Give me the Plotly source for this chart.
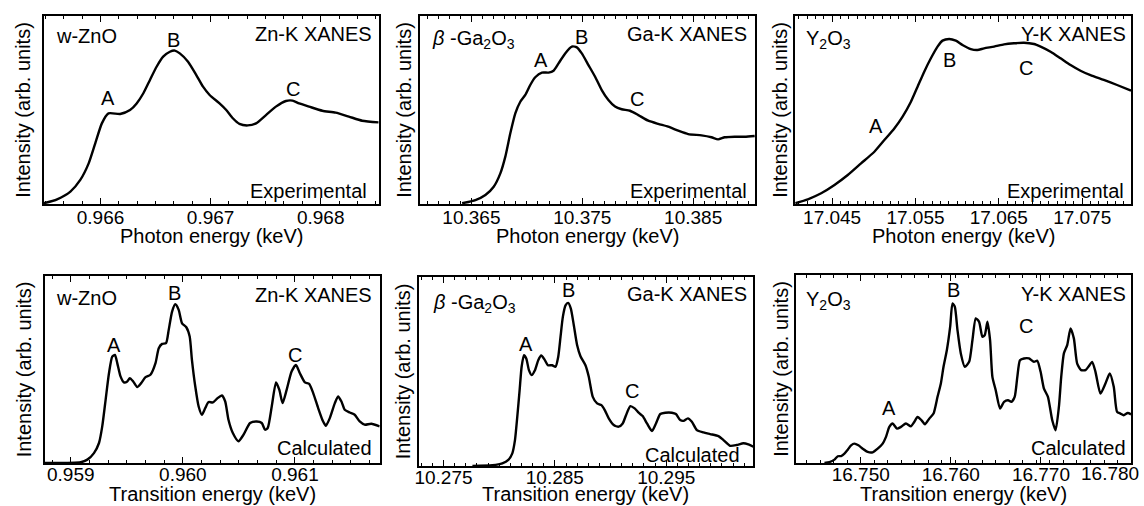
import plotly.graph_objects as go

# ---------------- data ----------------
zn_exp_e = [0.965485, 0.965605, 0.965726, 0.965816, 0.965892, 0.965952, 0.966012, 0.966072,
            0.966178, 0.966268, 0.966328, 0.966389, 0.966449, 0.966509, 0.966569, 0.966630,
            0.966675, 0.966720, 0.966795, 0.966870, 0.966931, 0.966991, 0.967081, 0.967142,
            0.967202, 0.967262, 0.967337, 0.967413, 0.967503, 0.967593, 0.967684, 0.967744,
            0.967804, 0.967895, 0.968015, 0.968136, 0.968256, 0.968377, 0.968527]
zn_exp_i = [0.004, 0.025, 0.066, 0.128, 0.216, 0.323, 0.429, 0.482,
            0.479, 0.500, 0.535, 0.589, 0.660, 0.730, 0.784, 0.810,
            0.816, 0.801, 0.757, 0.686, 0.624, 0.580, 0.535, 0.500,
            0.456, 0.426, 0.418, 0.429, 0.473, 0.518, 0.548, 0.550,
            0.535, 0.518, 0.496, 0.486, 0.465, 0.443, 0.434]

ga_exp_e = [10.364160, 10.365360, 10.366259, 10.367009, 10.367609, 10.368058, 10.368508, 10.368958,
            10.369408, 10.369858, 10.370307, 10.370757, 10.371357, 10.371957, 10.372406, 10.372856,
            10.373456, 10.374055, 10.374505, 10.374955, 10.375555, 10.376154, 10.376754, 10.377354,
            10.377954, 10.378553, 10.379303, 10.380052, 10.380952, 10.381852, 10.382751, 10.383651,
            10.384550, 10.385750, 10.386649, 10.387249, 10.387849, 10.388748, 10.389648, 10.390547]
ga_exp_i = [0.004, 0.021, 0.048, 0.092, 0.163, 0.252, 0.376, 0.482,
            0.544, 0.580, 0.633, 0.674, 0.699, 0.699, 0.709, 0.748,
            0.801, 0.837, 0.833, 0.801, 0.739, 0.677, 0.606, 0.553,
            0.518, 0.504, 0.496, 0.473, 0.443, 0.426, 0.411, 0.390,
            0.372, 0.365, 0.355, 0.344, 0.355, 0.358, 0.358, 0.362]

y_exp_e = [17.040572, 17.042088, 17.043684, 17.045279, 17.046875, 17.048470, 17.050066, 17.051263,
           17.052459, 17.053456, 17.054454, 17.055251, 17.056049, 17.056847, 17.057645, 17.058243,
           17.059041, 17.059838, 17.060636, 17.061633, 17.062431, 17.063229, 17.064426, 17.065622,
           17.066819, 17.068016, 17.069213, 17.070010, 17.071207, 17.072404, 17.073600, 17.074797,
           17.075994, 17.077589, 17.079185, 17.080860]
y_exp_i = [0.004, 0.025, 0.057, 0.101, 0.154, 0.216, 0.278, 0.340,
           0.402, 0.465, 0.544, 0.624, 0.704, 0.775, 0.837, 0.869,
           0.878, 0.869, 0.846, 0.824, 0.819, 0.828, 0.837, 0.849,
           0.855, 0.858, 0.851, 0.837, 0.810, 0.775, 0.739, 0.709,
           0.686, 0.660, 0.633, 0.603]

zn_calc_e = [0.958769, 0.959089, 0.959148, 0.959207, 0.959252, 0.959281, 0.959311, 0.959341,
             0.959370, 0.959394, 0.959415, 0.959444, 0.959474, 0.959504, 0.959527, 0.959557,
             0.959593, 0.959628, 0.959667, 0.959711, 0.959756, 0.959785, 0.959815, 0.959850,
             0.959874, 0.959904, 0.959933, 0.959963, 0.959993, 0.960031, 0.960061, 0.960081,
             0.960111, 0.960141, 0.960170, 0.960200, 0.960230, 0.960268, 0.960310, 0.960348,
             0.960378, 0.960407, 0.960446, 0.960496, 0.960541, 0.960600, 0.960659, 0.960704,
             0.960733, 0.960757, 0.960793, 0.960831, 0.960861, 0.960890, 0.960926, 0.960970,
             0.961009, 0.961044, 0.961089, 0.961127, 0.961163, 0.961207, 0.961247, 0.961276,
             0.961311, 0.961356, 0.961385, 0.961415, 0.961444, 0.961489, 0.961533, 0.961578,
             0.961622, 0.961681, 0.961756]
zn_calc_i = [0.000, 0.004, 0.018, 0.053, 0.107, 0.196, 0.338, 0.480,
             0.569, 0.578, 0.534, 0.463, 0.431, 0.436, 0.454, 0.436,
             0.406, 0.427, 0.459, 0.472, 0.534, 0.614, 0.637, 0.641,
             0.712, 0.810, 0.849, 0.819, 0.747, 0.726, 0.676, 0.552,
             0.409, 0.302, 0.258, 0.294, 0.326, 0.324, 0.347, 0.361,
             0.329, 0.231, 0.160, 0.116, 0.151, 0.214, 0.222, 0.214,
             0.178, 0.187, 0.302, 0.431, 0.391, 0.320, 0.391, 0.489,
             0.525, 0.480, 0.431, 0.423, 0.374, 0.294, 0.228, 0.199,
             0.240, 0.320, 0.356, 0.329, 0.285, 0.270, 0.258, 0.222,
             0.205, 0.210, 0.196]

ga_calc_e = [10.277597, 10.279388, 10.280284, 10.280821, 10.281179, 10.281418, 10.281627, 10.281836,
             10.282015, 10.282224, 10.282433, 10.282672, 10.282910, 10.283209, 10.283507, 10.283776,
             10.284075, 10.284373, 10.284761, 10.285060, 10.285299, 10.285507, 10.285716, 10.285955,
             10.286194, 10.286433, 10.286701, 10.287000, 10.287299, 10.287746, 10.288045, 10.288403,
             10.288791, 10.289179, 10.289478, 10.289836, 10.290284, 10.290731, 10.291090, 10.291388,
             10.291776, 10.292164, 10.292522, 10.292881, 10.293269, 10.293716, 10.294075, 10.294463,
             10.294910, 10.295507, 10.295866, 10.296254, 10.296552, 10.296940, 10.297299, 10.297746,
             10.298343, 10.298940, 10.299687, 10.300134, 10.300731, 10.301328, 10.301925, 10.302373,
             10.302821]
ga_calc_i = [0.000, 0.004, 0.014, 0.032, 0.067, 0.137, 0.261, 0.401,
             0.525, 0.586, 0.569, 0.507, 0.481, 0.507, 0.560, 0.585,
             0.563, 0.533, 0.533, 0.525, 0.577, 0.683, 0.789, 0.850,
             0.863, 0.833, 0.745, 0.639, 0.581, 0.533, 0.472, 0.366,
             0.331, 0.322, 0.296, 0.252, 0.217, 0.208, 0.225, 0.269,
             0.317, 0.305, 0.282, 0.264, 0.225, 0.185, 0.225, 0.275,
             0.282, 0.282, 0.275, 0.243, 0.239, 0.252, 0.234, 0.190,
             0.178, 0.169, 0.158, 0.137, 0.107, 0.111, 0.120, 0.114,
             0.102]

y_calc_e = [16.745978, 16.746531, 16.747085, 16.747454, 16.747823, 16.748192, 16.748561, 16.748930,
            16.749299, 16.749742, 16.750221, 16.750775, 16.751328, 16.751882, 16.752435, 16.752804,
            16.753173, 16.753542, 16.754022, 16.754465, 16.755018, 16.755572, 16.755941, 16.756310,
            16.756753, 16.757122, 16.757601, 16.758081, 16.758524, 16.758893, 16.759188, 16.759557,
            16.759926, 16.760185, 16.760443, 16.760738, 16.761107, 16.761550, 16.762030, 16.762399,
            16.762768, 16.763137, 16.763506, 16.763764, 16.764059, 16.764354, 16.764613, 16.764982,
            16.765461, 16.765904, 16.766347, 16.766716, 16.767085, 16.767380, 16.767675, 16.768118,
            16.768672, 16.769225, 16.769594, 16.769963, 16.770332, 16.770775, 16.771255, 16.771624,
            16.771993, 16.772251, 16.772546, 16.772915, 16.773284, 16.773653, 16.774022, 16.774465,
            16.774945, 16.775314, 16.775683, 16.776052, 16.776605, 16.777159, 16.777638, 16.778081,
            16.778450, 16.778819, 16.779188, 16.779631, 16.780000]
y_calc_i = [0.000, 0.005, 0.018, 0.036, 0.037, 0.050, 0.071, 0.094,
            0.103, 0.094, 0.076, 0.059, 0.057, 0.076, 0.103, 0.139,
            0.192, 0.210, 0.183, 0.192, 0.210, 0.195, 0.218, 0.245,
            0.227, 0.206, 0.236, 0.263, 0.352, 0.423, 0.512, 0.600,
            0.725, 0.849, 0.831, 0.707, 0.583, 0.512, 0.538, 0.654,
            0.769, 0.751, 0.671, 0.680, 0.751, 0.654, 0.458, 0.387,
            0.290, 0.325, 0.334, 0.325, 0.352, 0.458, 0.547, 0.556,
            0.556, 0.538, 0.544, 0.485, 0.396, 0.352, 0.227, 0.174,
            0.298, 0.458, 0.583, 0.627, 0.716, 0.663, 0.529, 0.494,
            0.494, 0.515, 0.538, 0.485, 0.369, 0.423, 0.476, 0.405,
            0.272, 0.263, 0.254, 0.266, 0.259]

# tick labels
zn_exp_ticks = ["0.966", "0.967", "0.968"]
ga_exp_ticks = ["10.365", "10.375", "10.385"]
y_exp_ticks = ["17.045", "17.055", "17.065", "17.075"]
zn_calc_ticks = ["0.959", "0.960", "0.961"]
ga_calc_ticks = ["10.275", "10.285", "10.295"]
y_calc_ticks = ["16.750", "16.760", "16.770", "16.780"]

# peak labels A, B, C (energy, intensity)
zn_exp_peaks = [("A", 0.966072, 0.562), ("B", 0.966660, 0.872), ("C", 0.967744, 0.610)]
ga_exp_peaks = [("A", 10.371297, 0.766), ("B", 10.374955, 0.890), ("C", 10.379903, 0.557)]
y_exp_peaks = [("A", 17.050265, 0.415), ("B", 17.059041, 0.766), ("C", 17.068215, 0.725)]
zn_calc_peaks = [("A", 0.959385, 0.632), ("B", 0.959927, 0.907), ("C", 0.961000, 0.578)]
ga_calc_peaks = [("A", 10.282373, 0.643), ("B", 10.286254, 0.930), ("C", 10.291925, 0.396)]
y_calc_peaks = [("A", 16.753173, 0.290), ("B", 16.760295, 0.920), ("C", 16.768303, 0.728)]

samples = ["w-ZnO", "<i>β</i> -Ga<sub>2</sub>O<sub>3</sub>", "Y<sub>2</sub>O<sub>3</sub>"]
edges = ["Zn-K XANES", "Ga-K XANES", "Y-K XANES"]
y_title = "Intensity (arb. units)"
x_titles = ["Photon energy (keV)", "Transition energy (keV)"]

# ---------------- layout helpers ----------------
W, H = 1144, 506
FONT = "Liberation Sans, Arial, Helvetica, sans-serif"


def xdom(a, b):
    return [a / W, b / W]


def ydom(top, bottom):
    return [1 - bottom / H, 1 - top / H]


panels = [
    dict(e=zn_exp_e, i=zn_exp_i, rng=[0.965485, 0.968527], ticks=zn_exp_ticks, minor=1 / 6000,
         xd=xdom(40, 376), yd=ydom(16, 204), title=x_titles[0], ty=236, tls=-5, ysd=6, peaks=zn_exp_peaks,
         sample=samples[0], edge=edges[0], kind="Experimental", sx=0.030, sy=0.895, ex=0.985, ey=0.905, kx=0.970, ky=0.07),
    dict(e=ga_exp_e, i=ga_exp_i, rng=[10.36032, 10.39061], ticks=ga_exp_ticks, minor=0.001,
         xd=xdom(417, 754), yd=ydom(16, 204), title=x_titles[0], ty=236, tls=-5, ysd=1, peaks=ga_exp_peaks,
         sample=samples[1], edge=edges[1], kind="Experimental", sx=0.030, sy=0.875, ex=0.982, ey=0.905, kx=0.982, ky=0.07),
    dict(e=y_exp_e, i=y_exp_i, rng=[17.040572, 17.080860], ticks=y_exp_ticks, minor=0.001,
         xd=xdom(794, 1131), yd=ydom(16, 204), title=x_titles[0], ty=236, tls=-5, ysd=0, peaks=y_exp_peaks,
         sample=samples[2], edge=edges[2], kind="Experimental", sx=0.027, sy=0.875, ex=0.990, ey=0.905, kx=0.985, ky=0.07),
    dict(e=zn_calc_e, i=zn_calc_i, rng=[0.958769, 0.961756], ticks=zn_calc_ticks, minor=1 / 6000,
         xd=xdom(41, 377), yd=ydom(276, 463), title=x_titles[1], ty=494, tls=-7, ysd=6, peaks=zn_calc_peaks,
         sample=samples[0], edge=edges[0], kind="Calculated", sx=0.027, sy=0.88, ex=0.982, ey=0.90, kx=0.982, ky=0.08),
    dict(e=ga_calc_e, i=ga_calc_i, rng=[10.272761, 10.302821], ticks=ga_calc_ticks, minor=0.001,
         xd=xdom(416, 752), yd=ydom(277, 466), title=x_titles[1], ty=494, tls=-7, ysd=1, peaks=ga_calc_peaks,
         sample=samples[1], edge=edges[1], kind="Calculated", sx=0.036, sy=0.86, ex=0.988, ey=0.91, kx=0.967, ky=0.06),
    dict(e=y_calc_e, i=y_calc_i, rng=[16.742841, 16.780000], ticks=y_calc_ticks, minor=0.0015,
         xd=xdom(795, 1131), yd=ydom(275, 463), title=x_titles[1], ty=494, tls=-7, ysd=0, peaks=y_calc_peaks,
         sample=samples[2], edge=edges[2], kind="Calculated", sx=0.024, sy=0.865, ex=0.990, ey=0.90, kx=0.990, ky=0.08),
]

fig = go.Figure()
annotations = []
layout = dict(width=W, height=H, margin=dict(l=0, r=0, t=0, b=0),
              paper_bgcolor="white", plot_bgcolor="white", showlegend=False,
              font=dict(family=FONT, color="black", size=20))

for k, p in enumerate(panels, start=1):
    xs = "x" if k == 1 else f"x{k}"
    ys = "y" if k == 1 else f"y{k}"
    xname = "xaxis" if k == 1 else f"xaxis{k}"
    yname = "yaxis" if k == 1 else f"yaxis{k}"
    fig.add_trace(go.Scatter(x=p["e"], y=p["i"], mode="lines", xaxis=xs, yaxis=ys,
                             line=dict(color="black", width=2.4, shape="spline", smoothing=0.6),
                             hoverinfo="skip"))
    tickvals = [float(t) for t in p["ticks"]]
    ticktext = list(p["ticks"])
    if k == 6:
        tickvals = tickvals[:-1]  # last label drawn separately, shifted inside the page
        ticktext = ticktext[:-1]
    layout[xname] = dict(
        domain=p["xd"], anchor=ys, range=p["rng"], showgrid=False, zeroline=False,
        showline=True, linecolor="black", linewidth=1.5, mirror="ticks",
        ticks="inside", ticklen=6, tickwidth=1, tickcolor="black",
        tickvals=tickvals, ticktext=ticktext, tickfont=dict(size=19, family=FONT),
        ticklabelstandoff=p["tls"],
        minor=dict(ticks="inside", ticklen=3, tickwidth=1, tickcolor="black",
                   dtick=p["minor"], tick0=tickvals[0]),
    )
    layout[yname] = dict(
        domain=p["yd"], anchor=xs, range=[0, 1], showgrid=False, zeroline=False,
        showline=True, linecolor="black", linewidth=1.5, mirror=True,
        ticks="", showticklabels=False,
        title=dict(text=y_title, font=dict(size=20, family=FONT), standoff=p["ysd"]),
    )
    # x-axis title sits tight under the tick labels, as in the reference
    annotations.append(dict(text=p["title"], xref="paper", yref="paper",
                            x=(p["xd"][0] + p["xd"][1]) / 2, y=1 - p["ty"] / H,
                            xanchor="center", yanchor="middle", showarrow=False,
                            font=dict(size=20, family=FONT)))
    xd = f"{xs} domain"
    yd = f"{ys} domain"
    annotations.append(dict(text=p["sample"], xref=xd, yref=yd, x=p["sx"], y=p["sy"],
                            xanchor="left", yanchor="middle", showarrow=False, font=dict(size=20)))
    annotations.append(dict(text=p["edge"], xref=xd, yref=yd, x=p["ex"], y=p["ey"],
                            xanchor="right", yanchor="middle", showarrow=False, font=dict(size=20)))
    annotations.append(dict(text=p["kind"], xref=xd, yref=yd, x=p["kx"], y=p["ky"],
                            xanchor="right", yanchor="middle", showarrow=False, font=dict(size=20)))
    for lab, ex, iy in p["peaks"]:
        annotations.append(dict(text=lab, xref=xs, yref=ys, x=ex, y=iy,
                                xanchor="center", yanchor="middle", showarrow=False, font=dict(size=20)))

# last tick label of the lower-right panel, pulled inside the page as in the reference
annotations.append(dict(text=y_calc_ticks[-1], xref="paper", yref="paper", x=1141 / W, y=1 - 473 / H,
                        xanchor="right", yanchor="middle", showarrow=False,
                        font=dict(size=19, family=FONT)))

layout["annotations"] = annotations
fig.update_layout(**layout)
fig.write_html("out.html", config={"displayModeBar": False},
               post_script="document.body.style.margin='0';document.body.style.overflow='hidden';")
